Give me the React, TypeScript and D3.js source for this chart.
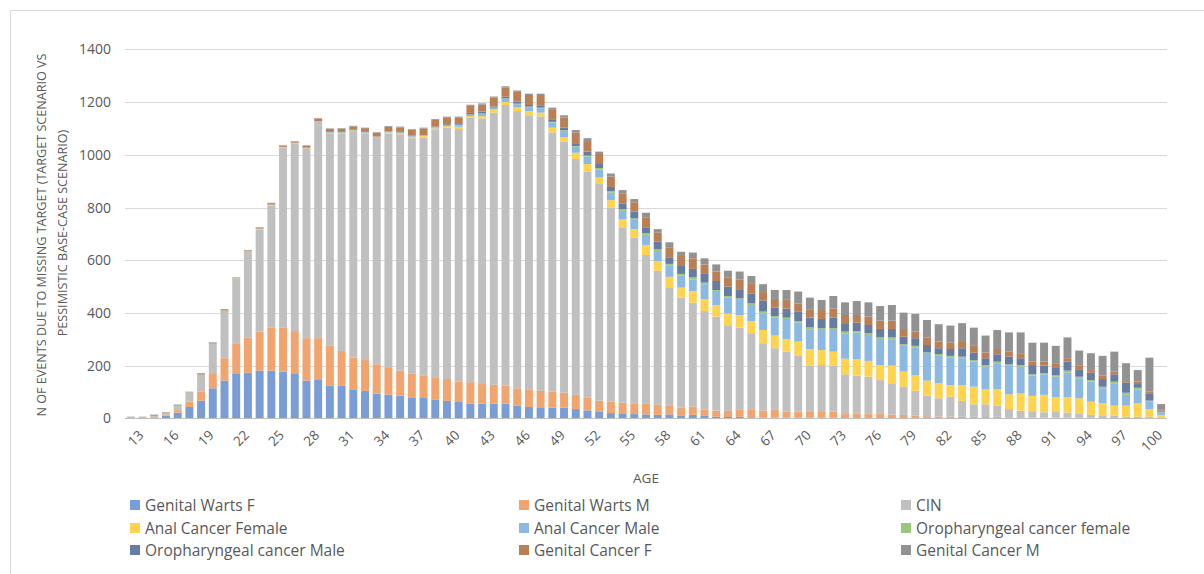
import React from "react";
import * as d3 from "d3";

const ages = [12,13,14,15,16,17,18,19,20,21,22,23,24,25,26,27,28,29,30,31,32,33,34,35,36,37,38,39,40,41,42,43,44,45,46,47,48,49,50,51,52,53,54,55,56,57,58,59,60,61,62,63,64,65,66,67,68,69,70,71,72,73,74,75,76,77,78,79,80,81,82,83,84,85,86,87,88,89,90,91,92,93,94,95,96,97,98,99,100];

const tickAges = [13,16,19,22,25,28,31,34,37,40,43,46,49,52,55,58,61,64,67,70,73,76,79,82,85,88,91,94,97,100];

const yTicks = [0,200,400,600,800,1000,1200,1400];

const genitalWartsF = [1,1,3,10,21,43,67,114,143,171,173,181,181,177,168,143,148,123,123,110,104,94,90,86,77,77,70,66,62,56,56,56,56,49,43,39,40,40,35,30,24,20,19,16,15,13,15,9,13,9,6,5,6,4,3,3,2,2,2,2,2,1,1,1,1,1,1,0,0,0,0,0,0,0,0,0,0,0,0,0,0,0,0,0,0,0,0,0,0];
const genitalWartsM = [2,2,3,5,10,20,34,54,85,114,134,149,164,168,163,161,156,153,133,120,117,111,104,95,94,84,86,83,77,81,74,71,68,65,67,65,61,57,54,48,43,43,40,41,42,38,32,31,31,25,23,23,28,28,26,29,23,23,22,22,23,15,18,15,15,13,12,10,8,7,7,6,6,5,6,4,4,3,3,3,3,2,2,1,1,1,1,1,1];
const cin = [1,1,2,5,15,34,64,114,179,246,328,387,461,683,713,721,821,806,825,860,860,859,886,897,892,905,941,954,959,1003,1008,1033,1065,1052,1040,1042,984,952,895,858,822,736,666,629,563,509,450,418,395,373,357,325,310,291,256,234,228,212,175,178,174,151,143,142,129,119,107,94,78,69,75,60,47,48,42,31,25,24,20,24,19,17,11,8,9,5,5,5,3];
const analCancerFemale = [0,0,0,0,0,0,0,0,0,0,0,2,4,1,1,1,1,1,1,1,1,1,4,3,5,5,3,6,8,7,9,12,11,14,16,14,18,18,24,29,25,29,30,32,38,37,40,38,44,45,44,45,47,46,50,48,48,54,63,57,54,59,62,60,57,67,57,59,57,57,44,60,67,57,62,56,66,58,66,53,58,57,50,48,38,42,51,29,9];
const analCancerMale = [0,0,0,0,0,0,0,0,0,0,0,0,0,0,0,0,0,2,2,1,3,3,2,2,3,2,3,4,6,5,8,6,12,12,15,17,20,23,23,28,31,28,32,35,38,38,42,45,44,57,53,61,58,61,63,68,76,72,76,76,82,97,101,98,99,100,98,105,101,104,104,102,95,86,99,108,101,77,78,78,93,76,76,57,85,41,53,28,10];
const oroFemale = [0,0,0,0,1,1,1,1,2,1,1,1,1,1,1,1,1,1,2,2,1,1,2,2,1,1,2,1,2,1,2,1,2,2,2,2,2,3,2,4,5,6,6,6,6,6,7,7,8,6,4,5,6,6,7,6,5,6,7,7,7,6,6,7,6,7,6,7,6,7,7,6,6,6,6,6,6,5,5,5,8,6,6,6,6,8,6,4,2];
const oroMale = [0,0,0,0,0,0,0,0,0,0,0,0,0,0,0,0,0,1,1,1,1,1,1,2,2,1,2,3,3,6,7,4,7,8,6,9,10,10,11,15,15,16,23,25,23,29,25,30,32,33,34,36,35,38,42,33,34,35,37,35,40,32,32,31,32,32,29,29,28,22,26,32,28,26,28,29,26,35,28,31,34,28,28,29,28,38,14,28,4];
const genitalCancerF = [1,1,2,1,2,1,2,2,2,2,2,3,5,4,4,7,10,11,12,13,14,14,17,17,20,25,26,25,25,27,27,34,34,37,38,39,38,38,41,40,38,40,38,36,38,36,38,38,40,36,36,35,37,36,32,32,36,32,32,34,35,31,29,32,32,32,29,25,29,25,25,27,26,22,20,19,19,13,15,15,13,13,10,13,10,7,9,6,3];
const genitalCancerM = [1,1,4,2,3,2,3,3,3,1,1,2,2,2,2,2,2,2,2,2,2,2,3,3,3,3,3,3,3,4,4,4,5,5,5,5,6,9,9,11,9,11,12,12,17,12,19,16,22,23,27,25,30,30,30,34,35,45,44,38,47,48,53,54,55,59,62,67,66,66,64,68,69,64,72,73,79,72,72,66,79,58,64,75,76,67,44,129,22];

const seriesNames = [
  "Genital Warts F",
  "Genital Warts M",
  "CIN",
  "Anal Cancer Female",
  "Anal Cancer Male",
  "Oropharyngeal cancer female",
  "Oropharyngeal cancer Male",
  "Genital Cancer F",
  "Genital Cancer M",
];
const seriesValues = [
  genitalWartsF, genitalWartsM, cin, analCancerFemale, analCancerMale,
  oroFemale, oroMale, genitalCancerF, genitalCancerM,
];
const seriesColors = [
  "#7B9DD6", "#F2A46F", "#C0C0C0", "#FFD34D", "#8CB9E2",
  "#9BC67E", "#677CA1", "#BB7F56", "#929292",
];

const W = 1204;
const H = 574;
const FONT = "'Open Sans', 'DejaVu Sans', sans-serif";
const TXT = "#595959";

export default function App() {
  const rows = ages.map((a, i) => {
    const r: Record<string, number> = { age: a };
    seriesNames.forEach((n, k) => (r[n] = seriesValues[k][i]));
    return r;
  });
  const stacked = d3.stack<Record<string, number>>().keys(seriesNames)(rows);

  const x = d3
    .scaleBand<number>()
    .domain(ages)
    .range([125, 1167])
    .paddingInner(0.32)
    .paddingOuter(0.16);
  const y = d3.scaleLinear().domain([0, 1400]).range([418.3, 49.4]);

  const legendCols = [130, 519, 901];
  const legendRows = [505, 528, 550];

  return (
    <svg
      width={W}
      height={H}
      style={{ position: "absolute", left: 0, top: 0, background: "#fff" }}
      fontFamily={FONT}
    >
      <rect x={0} y={0} width={W} height={H} fill="#fff" />
      <line x1={10.5} y1={10.5} x2={W} y2={10.5} stroke="#D9D9D9" />
      <line x1={10.5} y1={10.5} x2={10.5} y2={H} stroke="#D9D9D9" />

      {yTicks.map((t) => (
        <g key={t}>
          {t > 0 && (
            <line
              x1={125}
              x2={1167}
              y1={Math.round(y(t)) + 0.5}
              y2={Math.round(y(t)) + 0.5}
              stroke="#D9D9D9"
              strokeWidth={1}
            />
          )}
          <text
            x={111}
            y={y(t)}
            dy="0.36em"
            textAnchor="end"
            fontSize={14}
            fill={TXT}
          >
            {t}
          </text>
        </g>
      ))}

      {stacked.map((s, k) => (
        <g key={s.key} fill={seriesColors[k]}>
          {s.map((d, i) => {
            const h = y(d[0]) - y(d[1]);
            if (h <= 0) return null;
            return (
              <rect
                key={i}
                x={x(ages[i])}
                y={y(d[1])}
                width={x.bandwidth()}
                height={h}
              />
            );
          })}
        </g>
      ))}

      <line x1={125} x2={1167} y1={418.5} y2={418.5} stroke="#BFBFBF" />

      {tickAges.map((a) => {
        const cx = (x(a) as number) + x.bandwidth() / 2 + 2;
        const cy = 436;
        return (
          <text
            key={a}
            x={cx}
            y={cy}
            textAnchor="end"
            fontSize={13.5}
            fill={TXT}
            transform={`rotate(-45, ${cx}, ${cy})`}
          >
            {a}
          </text>
        );
      })}

      <text x={646} y={483} textAnchor="middle" fontSize={13.5} fill={TXT}>
        AGE
      </text>

      <g fill={TXT} fontSize={12.6}>
        <text transform="translate(45.5, 235) rotate(-90)" textAnchor="middle">
          N OF EVENTS DUE TO MISSING TARGET (TARGET SCENARIO VS
        </text>
        <text transform="translate(66.5, 233) rotate(-90)" textAnchor="middle">
          PESSIMISTIC BASE-CASE SCENARIO)
        </text>
      </g>

      {seriesNames.map((n, k) => {
        const col = k % 3;
        const row = Math.floor(k / 3);
        const lx = legendCols[col];
        const ly = legendRows[row];
        return (
          <g key={n}>
            <rect x={lx} y={ly - 5} width={10} height={10} fill={seriesColors[k]} />
            <text x={lx + 15} y={ly} dy="0.36em" fontSize={15.5} fill={TXT}>
              {n}
            </text>
          </g>
        );
      })}
    </svg>
  );
}
